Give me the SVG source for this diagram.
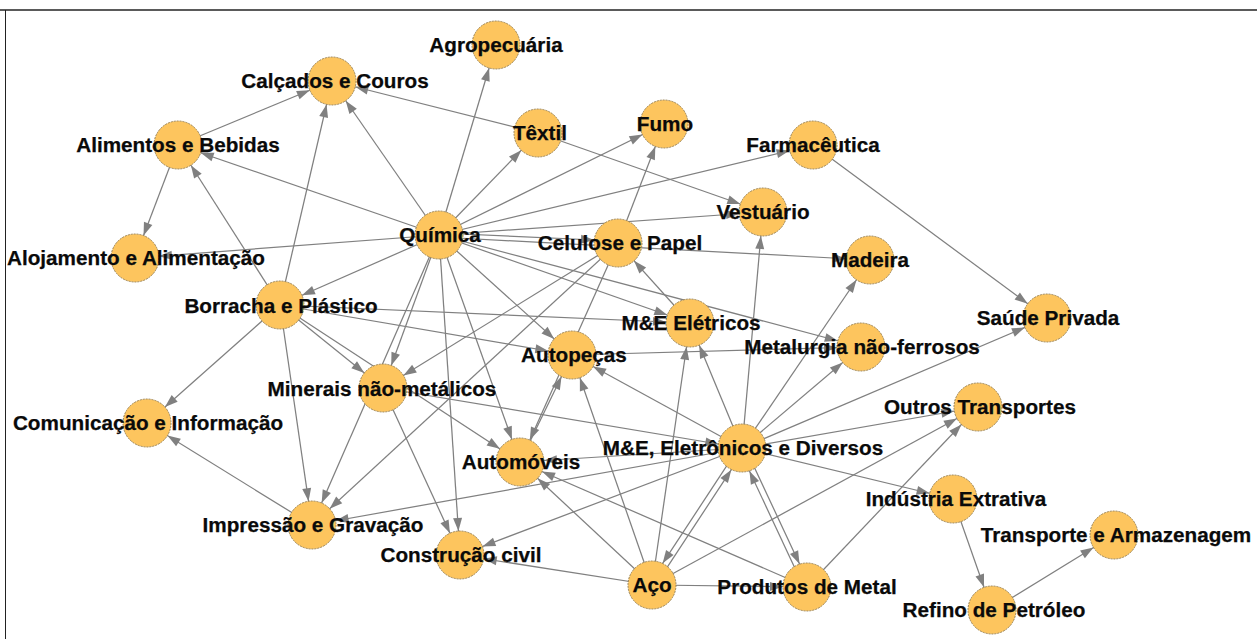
<svg xmlns="http://www.w3.org/2000/svg" width="1257" height="639" viewBox="0 0 1257 639">
  <style>
    .e { stroke: #808080; stroke-width: 1.25; fill: none; marker-end: url(#arrow); }
    .n circle { fill: #FDC55E; stroke: #9a8458; stroke-width: 1; stroke-dasharray: 2 1; }
    .n text { font-family: "Liberation Sans", Arial, sans-serif; font-size: 20.7px; font-weight: bold; fill: #0a0a0a; stroke: #0a0a0a; stroke-width: 0.25; text-anchor: middle; }
  </style>
  <defs>
    <!-- arrowhead tip sits 24px before the line end, on the target circle's rim -->
    <marker id="arrow" markerUnits="userSpaceOnUse" markerWidth="13" markerHeight="9" refX="37" refY="4.5" orient="auto" overflow="visible">
      <path d="M0,0 L13,4.5 L0,9 z" fill="#808080"/>
    </marker>
  </defs>
  <rect width="1257" height="639" fill="#fff"/>
  <!-- frame -->
  <line x1="0" y1="10" x2="1257" y2="10" stroke="#5a5a5a" stroke-width="2"/>
  <line x1="5.5" y1="10" x2="5.5" y2="639" stroke="#222" stroke-width="1"/>

  <g id="edges">
    <!-- Química -->
    <line class="e" x1="439" y1="235" x2="178" y2="145"/>
    <line class="e" x1="439" y1="235" x2="332" y2="81"/>
    <line class="e" x1="439" y1="235" x2="496" y2="45"/>
    <line class="e" x1="439" y1="235" x2="538" y2="133"/>
    <line class="e" x1="439" y1="235" x2="664" y2="124"/>
    <line class="e" x1="439" y1="235" x2="813" y2="145"/>
    <line class="e" x1="439" y1="235" x2="763" y2="212"/>
    <line class="e" x1="439" y1="233" x2="618" y2="241"/>
    <line class="e" x1="439" y1="237" x2="870" y2="260"/>
    <line class="e" x1="439" y1="235" x2="135" y2="258"/>
    <line class="e" x1="439" y1="235" x2="280" y2="305"/>
    <line class="e" x1="439" y1="235" x2="383" y2="388"/>
    <line class="e" x1="439" y1="235" x2="312" y2="525"/>
    <line class="e" x1="439" y1="235" x2="460" y2="555"/>
    <line class="e" x1="439" y1="235" x2="520" y2="462"/>
    <line class="e" x1="439" y1="235" x2="572" y2="355"/>
    <line class="e" x1="439" y1="235" x2="690" y2="323"/>
    <line class="e" x1="439" y1="235" x2="861" y2="347"/>
    <!-- Alimentos e Bebidas -->
    <line class="e" x1="178" y1="145" x2="332" y2="81"/>
    <line class="e" x1="178" y1="145" x2="135" y2="258"/>
    <!-- Borracha e Plástico -->
    <line class="e" x1="280" y1="305" x2="178" y2="145"/>
    <line class="e" x1="280" y1="305" x2="332" y2="81"/>
    <line class="e" x1="280" y1="305" x2="383" y2="388"/>
    <line class="e" x1="280" y1="305" x2="520" y2="462"/>
    <line class="e" x1="280" y1="305" x2="147" y2="423"/>
    <line class="e" x1="280" y1="305" x2="312" y2="525"/>
    <line class="e" x1="280" y1="305" x2="690" y2="323"/>
    <line class="e" x1="280" y1="305" x2="572" y2="355"/>
    <!-- Têxtil -->
    <line class="e" x1="538" y1="133" x2="332" y2="81"/>
    <line class="e" x1="538" y1="133" x2="763" y2="212"/>
    <!-- Celulose e Papel -->
    <line class="e" x1="618" y1="243" x2="664" y2="124"/>
    <line class="e" x1="618" y1="243" x2="383" y2="388"/>
    <line class="e" x1="618" y1="243" x2="312" y2="525"/>
    <line class="e" x1="618" y1="243" x2="520" y2="462"/>
    <!-- Farmacêutica -->
    <line class="e" x1="813" y1="145" x2="1047" y2="318"/>
    <!-- M&E Elétricos -->
    <line class="e" x1="690" y1="323" x2="618" y2="243"/>
    <!-- Impressão e Gravação -->
    <line class="e" x1="312" y1="525" x2="147" y2="423"/>
    <!-- Minerais não-metálicos -->
    <line class="e" x1="383" y1="388" x2="460" y2="555"/>
    <line class="e" x1="383" y1="388" x2="742" y2="448"/>
    <!-- M&E, Eletrônicos e Diversos -->
    <line class="e" x1="742" y1="448" x2="763" y2="212"/>
    <line class="e" x1="742" y1="448" x2="870" y2="260"/>
    <line class="e" x1="742" y1="448" x2="861" y2="347"/>
    <line class="e" x1="742" y1="448" x2="1047" y2="318"/>
    <line class="e" x1="742" y1="448" x2="690" y2="323"/>
    <line class="e" x1="742" y1="448" x2="572" y2="355"/>
    <line class="e" x1="742" y1="448" x2="978" y2="407"/>
    <line class="e" x1="742" y1="448" x2="953" y2="499"/>
    <line class="e" x1="742" y1="448" x2="312" y2="525"/>
    <line class="e" x1="742" y1="448" x2="460" y2="555"/>
    <line class="e" x1="742" y1="448" x2="520" y2="462"/>
    <line class="e" x1="739.5" y1="446.4" x2="649.5" y2="583.4"/>
    <line class="e" x1="744.7" y1="446.7" x2="809.7" y2="585.7"/>
    <!-- Aço -->
    <line class="e" x1="652" y1="585" x2="520" y2="462"/>
    <line class="e" x1="652" y1="585" x2="572" y2="355"/>
    <line class="e" x1="652" y1="585" x2="460" y2="555"/>
    <line class="e" x1="654.5" y1="586.6" x2="744.5" y2="449.6"/>
    <line class="e" x1="652" y1="585" x2="690" y2="323"/>
    <line class="e" x1="652" y1="585" x2="978" y2="407"/>
    <line class="e" x1="652" y1="585" x2="807" y2="587"/>
    <!-- Produtos de Metal -->
    <line class="e" x1="807" y1="587" x2="520" y2="462"/>
    <line class="e" x1="807" y1="587" x2="978" y2="407"/>
    <line class="e" x1="804.3" y1="588.3" x2="739.3" y2="449.3"/>
    <!-- Autopeças / Automóveis -->
    <line class="e" x1="572" y1="355" x2="861" y2="347"/>
    <line class="e" x1="520" y1="462" x2="572" y2="355"/>
    <!-- Indústria Extrativa / Refino -->
    <line class="e" x1="953" y1="499" x2="992" y2="610"/>
    <line class="e" x1="992" y1="610" x2="1114" y2="535"/>
  </g>

  <g id="n-agro" class="n"><circle cx="496" cy="45" r="24"/><text x="496" y="52">Agropecuária</text></g>
  <g id="n-calcados" class="n"><circle cx="332" cy="81" r="24"/><text x="335" y="88">Calçados e Couros</text></g>
  <g id="n-textil" class="n"><circle cx="538" cy="133" r="24"/><text x="540" y="140">Têxtil</text></g>
  <g id="n-fumo" class="n"><circle cx="664" cy="124" r="24"/><text x="665" y="131">Fumo</text></g>
  <g id="n-alimentos" class="n"><circle cx="178" cy="145" r="24"/><text x="178" y="152">Alimentos e Bebidas</text></g>
  <g id="n-farma" class="n"><circle cx="813" cy="145" r="24"/><text x="813" y="152">Farmacêutica</text></g>
  <g id="n-vestuario" class="n"><circle cx="763" cy="212" r="24"/><text x="763" y="219">Vestuário</text></g>
  <g id="n-quimica" class="n"><circle cx="439" cy="235" r="24"/><text x="440" y="242">Química</text></g>
  <g id="n-celulose" class="n"><circle cx="618" cy="243" r="24"/><text x="620" y="250">Celulose e Papel</text></g>
  <g id="n-alojamento" class="n"><circle cx="135" cy="258" r="24"/><text x="136" y="265">Alojamento e Alimentação</text></g>
  <g id="n-madeira" class="n"><circle cx="870" cy="260" r="24"/><text x="870" y="267">Madeira</text></g>
  <g id="n-borracha" class="n"><circle cx="280" cy="305" r="24"/><text x="281" y="313">Borracha e Plástico</text></g>
  <g id="n-mee" class="n"><circle cx="690" cy="323" r="24"/><text x="691" y="330">M&amp;E Elétricos</text></g>
  <g id="n-saude" class="n"><circle cx="1047" cy="318" r="24"/><text x="1048" y="325">Saúde Privada</text></g>
  <g id="n-metalurgia" class="n"><circle cx="861" cy="347" r="24"/><text x="862" y="354">Metalurgia não-ferrosos</text></g>
  <g id="n-autopecas" class="n"><circle cx="572" cy="355" r="24"/><text x="574" y="362">Autopeças</text></g>
  <g id="n-minerais" class="n"><circle cx="383" cy="388" r="24"/><text x="382" y="396">Minerais não-metálicos</text></g>
  <g id="n-outros" class="n"><circle cx="978" cy="407" r="24"/><text x="980" y="414">Outros Transportes</text></g>
  <g id="n-comunicacao" class="n"><circle cx="147" cy="423" r="24"/><text x="148" y="430">Comunicação e Informação</text></g>
  <g id="n-medd" class="n"><circle cx="742" cy="448" r="24"/><text x="743" y="455">M&amp;E, Eletrônicos e Diversos</text></g>
  <g id="n-automoveis" class="n"><circle cx="520" cy="462" r="24"/><text x="521" y="469">Automóveis</text></g>
  <g id="n-extrativa" class="n"><circle cx="953" cy="499" r="24"/><text x="956" y="506">Indústria Extrativa</text></g>
  <g id="n-impressao" class="n"><circle cx="312" cy="525" r="24"/><text x="313" y="532">Impressão e Gravação</text></g>
  <g id="n-transporte" class="n"><circle cx="1114" cy="535" r="24"/><text x="1116" y="542">Transporte e Armazenagem</text></g>
  <g id="n-construcao" class="n"><circle cx="460" cy="555" r="24"/><text x="461" y="562">Construção civil</text></g>
  <g id="n-aco" class="n"><circle cx="652" cy="585" r="24"/><text x="652" y="592">Aço</text></g>
  <g id="n-produtos" class="n"><circle cx="807" cy="587" r="24"/><text x="807" y="594">Produtos de Metal</text></g>
  <g id="n-refino" class="n"><circle cx="992" cy="610" r="24"/><text x="994" y="617">Refino de Petróleo</text></g>
</svg>
